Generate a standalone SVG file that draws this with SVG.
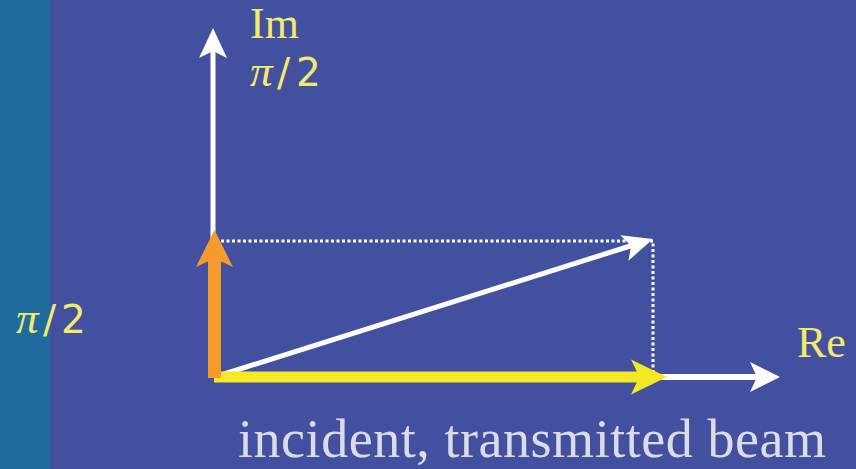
<svg xmlns="http://www.w3.org/2000/svg" width="856" height="469" viewBox="0 0 856 469">
  <defs>
    <style>
      .lbl { fill: #f2ea6c; }
      .serif { font-family: "Liberation Serif", "Times New Roman", serif; }
      .sans { font-family: "DejaVu Sans", "Liberation Sans", sans-serif; }
      .pi { font-family: "Liberation Serif", "Times New Roman", serif; font-style: italic; font-size: 45px; }
      .dot { stroke: #ffffff; stroke-width: 3; stroke-dasharray: 3 2.5; fill: none; }
    </style>
    <path id="head" d="M0,0 L-30,-14 L-23,0 L-30,14 Z"/>
  </defs>
  <rect width="856" height="469" fill="#4350a0"/>
  <rect x="0" y="0" width="50" height="469" fill="#1f6b9e"/>

  <g id="connectors">
    <path class="dot" d="M221,241 H653 V376"/>
    <g id="im-axis" fill="#ffffff">
      <rect x="210.5" y="45" width="5" height="333"/>
      <use href="#head" transform="translate(213,28) rotate(-90)"/>
    </g>
    <g id="re-axis" fill="#ffffff">
      <rect x="650" y="374" width="110" height="6"/>
      <use href="#head" transform="translate(780,377) scale(1,1.07)"/>
    </g>
    <g id="resultant" fill="#ffffff">
      <line x1="221" y1="375" x2="635" y2="244.5" stroke="#ffffff" stroke-width="5"/>
      <use href="#head" transform="translate(653,239) rotate(-17.56) scale(1,0.95)"/>
    </g>
    <g id="incident" fill="#f5ea22">
      <rect x="214" y="371.5" width="430" height="11"/>
      <use href="#head" transform="translate(667,377) scale(1.2,1.25)"/>
    </g>
    <g id="orange" fill="#f59a2c">
      <rect x="208" y="255" width="13" height="123"/>
      <use href="#head" transform="translate(214.5,230) rotate(-90) scale(1.23,1.32)"/>
    </g>
  </g>

  <g id="label-im">
    <text class="lbl serif" x="250" y="38" font-size="44">Im</text>
  </g>
  <g id="label-pi2-top">
    <text class="lbl sans" y="86" font-size="39"><tspan class="pi" x="250">π</tspan><tspan x="277">/</tspan><tspan x="296">2</tspan></text>
  </g>
  <g id="label-re">
    <text class="lbl serif" x="797" y="357" font-size="44">Re</text>
  </g>
  <g id="label-pi2-left">
    <text class="lbl sans" y="333" font-size="39"><tspan class="pi" x="16">π</tspan><tspan x="43">/</tspan><tspan x="61">2</tspan></text>
  </g>
  <g id="label-beam">
    <text class="serif" x="238" y="457" font-size="54" fill="#dcdce8" textLength="588" lengthAdjust="spacing">incident, transmitted beam</text>
  </g>
</svg>
